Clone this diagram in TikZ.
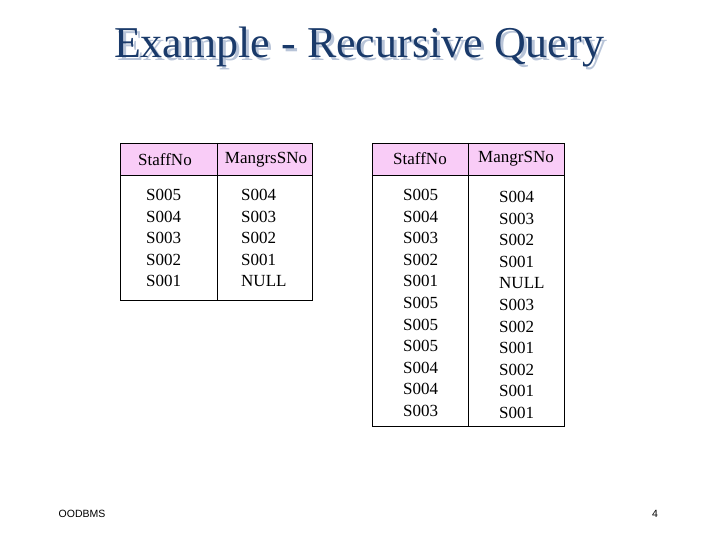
\documentclass[tikz,border=0pt]{standalone}
\usepackage{fontspec}
\setmainfont{Liberation Serif}
\newfontfamily\foot{Liberation Sans}
\definecolor{navy}{HTML}{1A3A6A}
\definecolor{shad}{HTML}{B8C4D8}
\definecolor{pinkh}{HTML}{F9CCF7}
\begin{document}
\begin{tikzpicture}[x=1pt,y=-1pt,
  cell/.style={font=\fontsize{17}{17}\selectfont,anchor=west,inner sep=0pt},
  head/.style={font=\fontsize{17}{17}\selectfont,inner sep=0pt},
  box/.style={draw=black,line width=0.6pt}]
\useasboundingbox (0,0) rectangle (720,540);
\node[text=shad,font=\fontsize{44}{44}\selectfont] (tsh) at (362,50) {Example - Recursive Query};
\node[text=navy,font=\fontsize{44}{44}\selectfont] (title) at (359,47) {Example - Recursive Query};
% left table
\fill[pinkh] (120,143) rectangle (312,175);
\draw[box] (120,143) rectangle (312,300);
\draw[box] (120,175) -- (312,175);
\draw[box] (217,143) -- (217,300);
\node[head] (lh1) at (165,160) {StaffNo};
\node[head] (lh2) at (266,160) {MangrsSNo};
\foreach \a/\b [count=\i from 0] in {S005/S004,S004/S003,S003/S002,S002/S001,S001/NULL}{
  \node[cell] (la\i) at (146,{195+21.5*\i}) {\a};
  \node[cell] (lb\i) at (241,{195+21.5*\i}) {\b};
}
% right table
\fill[pinkh] (372,143) rectangle (564,175);
\draw[box] (372,143) rectangle (564,426);
\draw[box] (372,175) -- (564,175);
\draw[box] (468,143) -- (468,426);
\node[head] (rh1) at (420,159) {StaffNo};
\node[head] (rh2) at (516,159) {MangrSNo};
\foreach \a/\b [count=\i from 0] in {S005/S004,S004/S003,S003/S002,S002/S001,S001/NULL,S005/S003,S005/S002,S005/S001,S004/S002,S004/S001,S003/S001}{
  \node[cell] (ra\i) at (403,{195+21.6*\i}) {\a};
  \node[cell] (rb\i) at (499,{197+21.6*\i}) {\b};
}
\node[font=\foot\fontsize{10.5}{10.5}\selectfont] (ft) at (82,514) {OODBMS};
\node[font=\foot\fontsize{10.5}{10.5}\selectfont] (pg) at (655,514) {4};
\end{tikzpicture}
\end{document}
